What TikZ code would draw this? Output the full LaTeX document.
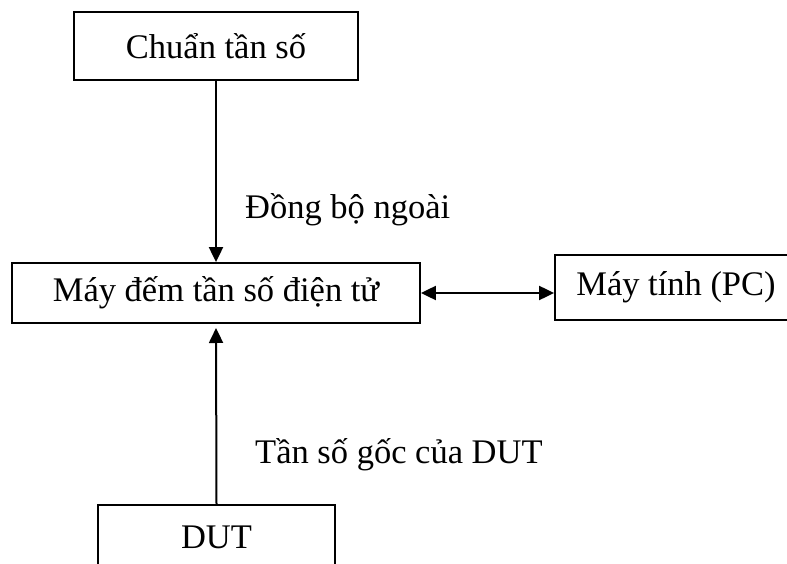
\documentclass[tikz,border=0pt]{standalone}
\usepackage{fontspec}
\setmainfont{Liberation Serif}
\usetikzlibrary{arrows.meta}
\begin{document}
\begin{tikzpicture}[x=1pt,y=-1pt,
  box/.style={draw,line width=1.8pt,rectangle,inner sep=0pt,font=\fontsize{34.5}{40}\selectfont},
  lbl/.style={anchor=west,inner sep=0pt,font=\fontsize{34.5}{40}\selectfont},
  conn/.style={line width=2pt,-{Triangle[length=15pt,width=14pt]}},
  bconn/.style={line width=2pt,{Triangle[length=15pt,width=14pt]}-{Triangle[length=15pt,width=14pt]}}]
\clip (0,0) rectangle (787,564);
\node[box,minimum width=284pt,minimum height=68pt] (std) at (216,46) {Chuẩn tần số};
\node[box,minimum width=408pt,minimum height=60pt] (cnt) at (216,293) {Máy đếm tần số điện tử};
\node[box,minimum width=242pt,minimum height=65pt] (pc) at (676,287.5) {Máy tính (PC)};
\node[box,minimum width=237pt,minimum height=64pt] (dut) at (216.5,537) {DUT};
\coordinate (cb) at (216,328);
\draw[conn] (std.south) -- (cnt.north);
\draw[conn] (dut.north) -- (cb);
\draw[bconn] (cnt.east) -- (cnt.east -| pc.west);
\node[lbl] (l1) at (245,210) {Đồng bộ ngoài};
\node[lbl] (l2) at (255,455) {Tần số gốc của DUT};
\end{tikzpicture}
\end{document}
